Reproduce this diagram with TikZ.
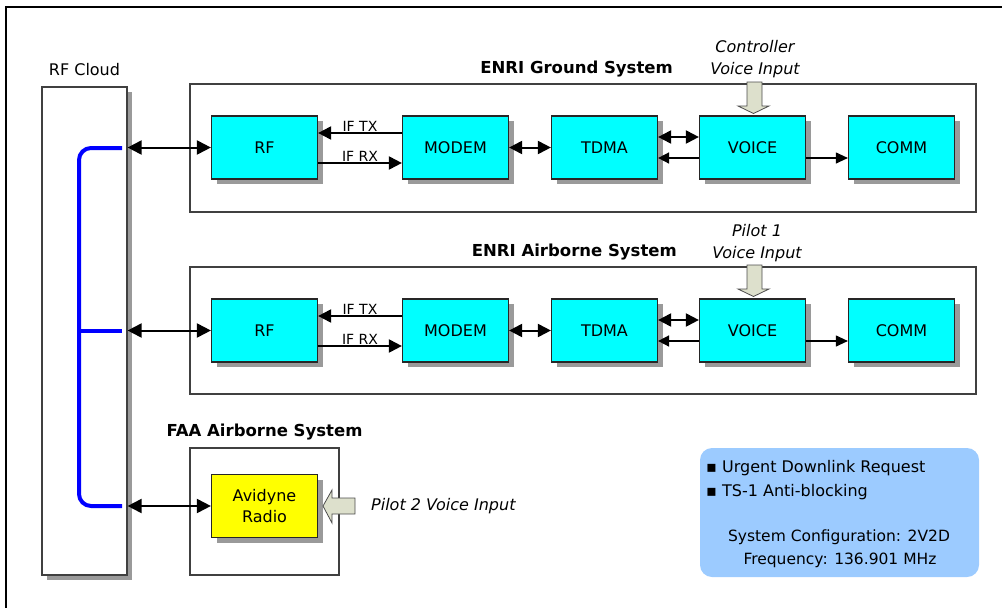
\documentclass[tikz,border=0pt]{standalone}
\usepackage{fontspec}
\setmainfont{DejaVu Sans}
\usetikzlibrary{arrows.meta,shadows,calc}
\definecolor{boxcyan}{HTML}{00FFFF}
\definecolor{boxyellow}{HTML}{FFFF00}
\definecolor{infoblue}{HTML}{9CCBFF}
\definecolor{blockfill}{HTML}{DDE0CC}
\definecolor{shadowgray}{HTML}{9A9A9A}
\definecolor{lineblue}{HTML}{0000FF}
\begin{document}
\begin{tikzpicture}[x=1pt,y=-1pt,
  shadowed/.style={drop shadow={shadow xshift=5pt,shadow yshift=-5pt,fill=shadowgray,opacity=1}},
  blk/.style={draw=black!85,line width=1.2pt,fill=boxcyan,minimum width=106pt,minimum height=63pt,
    inner sep=0pt,font=\fontsize{16}{19}\selectfont,shadowed},
  frame/.style={draw=black!75,line width=1.2pt,inner sep=0pt},
  title/.style={font=\fontsize{16.5}{19}\selectfont\bfseries,inner sep=0pt},
  ital/.style={font=\fontsize{16}{22}\selectfont\itshape,inner sep=0pt,align=center},
  small/.style={font=\fontsize{14}{16}\selectfont,inner sep=1pt},
  dbl/.style={{Triangle[length=14pt,width=14pt]}-{Triangle[length=14pt,width=14pt]},line width=2pt},
  dbls/.style={{Triangle[length=13pt,width=13pt]}-{Triangle[length=13pt,width=13pt]},line width=2pt},
  arr/.style={-{Triangle[length=13pt,width=13pt]},line width=2pt},
  arrl/.style={-{Triangle[length=11pt,width=11pt]},line width=1.6pt},
  arrs/.style={-{Triangle[length=12pt,width=11pt]},line width=1.1pt},
  blockarrow/.style={draw=black!70,line width=0.8pt,fill=blockfill}]
\useasboundingbox (0,0) rectangle (1002,608);
% outer frame (top and left only)
\draw[line width=2.2pt] (1002,7) -- (6,7) -- (6,608);

% RF cloud
\node[frame,shadowed,fill=white,minimum width=85pt,minimum height=488pt] (cloud) at (84.5,331) {};
\node[font=\fontsize{16}{19}\selectfont,inner sep=0pt] (cloudlbl) at (84.5,70) {RF Cloud};
\coordinate (b1) at (122,148);
\coordinate (b2) at (122,331);
\coordinate (b3) at (122,506);
\draw[lineblue,line width=4pt,rounded corners=12pt] (b1) -- (79,148) -- (79,506) -- (b3);
\draw[lineblue,line width=4pt] (79,331) -- (b2);

% ENRI Ground system
\node[frame,minimum width=786pt,minimum height=128pt] (gframe) at (583,148) {};
\node[title,anchor=east] (gtitle) at (673,69) {ENRI Ground System};
\node[blk] (rf1) at (264.5,147.5) {RF};
\node[blk] (m1) at (455.5,147.5) {MODEM};
\node[blk] (t1) at (604.5,147.5) {TDMA};
\node[blk] (v1) at (752.5,147.5) {VOICE};
\node[blk] (c1) at (901.5,147.5) {COMM};
\draw[arr] ([yshift=14.5pt]m1.west) -- node[small,above] (iftx1) {IF TX} ([yshift=14.5pt]rf1.east);
\draw[arr] ([yshift=-15.5pt]rf1.east) -- node[small,above] (ifrx1) {IF RX} ([yshift=-15.5pt]m1.west);
\draw[dbls] (m1) -- (t1);
\draw[dbls] ([yshift=10.5pt]t1.east) -- ([yshift=10.5pt]v1.west);
\draw[arrl] ([yshift=-10.5pt]v1.west) -- ([yshift=-10.5pt]t1.east);
\draw[arrs] ([yshift=-10.5pt]v1.east) -- ([yshift=-10.5pt]c1.west);
\node[ital] (ctrl) at (755,59) {Controller\\Voice Input};
\draw[blockarrow] (747,82) -- (762,82) -- (762,106) -- (769,106) -- (753.5,113.5) -- (738,106) -- (747,106) -- cycle;

% ENRI Airborne system
\node[frame,minimum width=786pt,minimum height=127pt] (aframe) at (583,330.5) {};
\node[title,anchor=east] (atitle) at (677,252) {ENRI Airborne System};
\node[blk] (rf2) at (264.5,330.5) {RF};
\node[blk] (m2) at (455.5,330.5) {MODEM};
\node[blk] (t2) at (604.5,330.5) {TDMA};
\node[blk] (v2) at (752.5,330.5) {VOICE};
\node[blk] (c2) at (901.5,330.5) {COMM};
\draw[arr] ([yshift=14.5pt]m2.west) -- node[small,above] (iftx2) {IF TX} ([yshift=14.5pt]rf2.east);
\draw[arr] ([yshift=-15.5pt]rf2.east) -- node[small,above] (ifrx2) {IF RX} ([yshift=-15.5pt]m2.west);
\draw[dbls] (m2) -- (t2);
\draw[dbls] ([yshift=10.5pt]t2.east) -- ([yshift=10.5pt]v2.west);
\draw[arrl] ([yshift=-10.5pt]v2.west) -- ([yshift=-10.5pt]t2.east);
\draw[arrs] ([yshift=-10.5pt]v2.east) -- ([yshift=-10.5pt]c2.west);
\node[ital] (pil1) at (757,243.5) {Pilot 1\\Voice Input};
\draw[blockarrow] (747,265) -- (762,265) -- (762,289) -- (769,289) -- (753.5,296.5) -- (738,289) -- (747,289) -- cycle;

% FAA airborne system
\node[frame,minimum width=149pt,minimum height=127pt] (fframe) at (264.5,511.5) {};
\node[title] (ftitle) at (264.5,432) {FAA Airborne System};
\node[blk,fill=boxyellow,align=center,font=\fontsize{16}{21}\selectfont] (avi) at (264.5,506) {Avidyne\\Radio};
\draw[blockarrow] (355,498) -- (355,514) -- (332,514) -- (332,523) -- (323,506) -- (332,490) -- (332,498) -- cycle;
\node[ital,anchor=west] (pil2) at (371,506) {Pilot 2 Voice Input};

% connections from cloud
\draw[dbl] (cloud.east |- rf1) -- (rf1.west);
\draw[dbl] (cloud.east |- rf2) -- (rf2.west);
\draw[dbl] (cloud.east |- avi) -- (avi.west);

% info box
\node[fill=infoblue,rounded corners=12pt,minimum width=279pt,minimum height=129pt,inner sep=0pt] (info) at (839.5,512.5) {};
\node[font=\fontsize{16}{19}\selectfont,anchor=west,inner sep=0pt] (i1) at (706,468) {▪ Urgent Downlink Request};
\node[font=\fontsize{16}{19}\selectfont,anchor=west,inner sep=0pt] (i2) at (706,492) {▪ TS-1 Anti-blocking};
\node[font=\fontsize{15.5}{19}\selectfont,inner sep=0pt] (i3) at (839,537) {System Configuration: 2V2D};
\node[font=\fontsize{15.5}{19}\selectfont,inner sep=0pt] (i4) at (840,560) {Frequency: 136.901 MHz};
\end{tikzpicture}
\end{document}
